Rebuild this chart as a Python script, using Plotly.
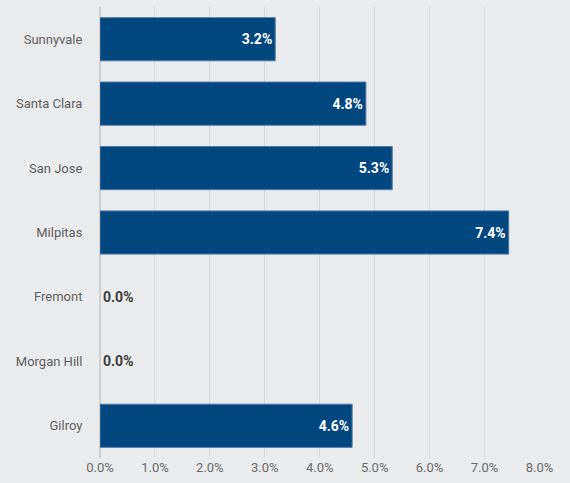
import plotly.graph_objects as go

cities = ["Sunnyvale", "Santa Clara", "San Jose", "Milpitas", "Fremont", "Morgan Hill", "Gilroy"]
rates = [3.19, 4.84, 5.32, 7.44, 0.0, 0.0, 4.59]
x_ticks = [0, 1, 2, 3, 4, 5, 6, 7, 8]
x_tick_labels = ["0.0%", "1.0%", "2.0%", "3.0%", "4.0%", "5.0%", "6.0%", "7.0%", "8.0%"]

positions = ["inside" if v > 0 else "outside" for v in rates]
text_colors = ["white" if v > 0 else "#3c3c3c" for v in rates]
line_widths = [1 if v > 0 else 0 for v in rates]

fig = go.Figure(go.Bar(
    y=cities,
    x=rates,
    orientation="h",
    width=0.67,
    marker=dict(color="#00467f", line=dict(color="#4f79a6", width=line_widths)),
    texttemplate="%{x:.1f}%",
    textposition=positions,
    insidetextanchor="end",
    textfont=dict(family="Roboto", size=14, color=text_colors, weight="bold"),
    cliponaxis=False,
))

fig.update_layout(
    width=570, height=483,
    margin=dict(l=100, r=30, t=7, b=25),
    paper_bgcolor="#ebeced",
    plot_bgcolor="#ebeced",
    showlegend=False,
    font=dict(family="Roboto", color="#666666", size=13),
)
fig.update_xaxes(
    range=[0, 8.01],
    tickvals=x_ticks,
    ticktext=x_tick_labels,
    showgrid=True,
    gridcolor="#d9d9d9",
    gridwidth=1,
    zeroline=True,
    zerolinecolor="#cfcfcf",
    zerolinewidth=2,
    tickfont=dict(size=13, color="#6a6a6a"),
    ticks="",
    fixedrange=True,
)
fig.update_yaxes(
    categoryorder="array",
    categoryarray=cities[::-1],
    autorange=False,
    range=[-0.5, 6.5],
    ticks="outside",
    ticklen=14,
    tickcolor="rgba(0,0,0,0)",
    tickfont=dict(size=13, color="#5e5e5e"),
    showgrid=False,
)

fig.write_html("out.html")
